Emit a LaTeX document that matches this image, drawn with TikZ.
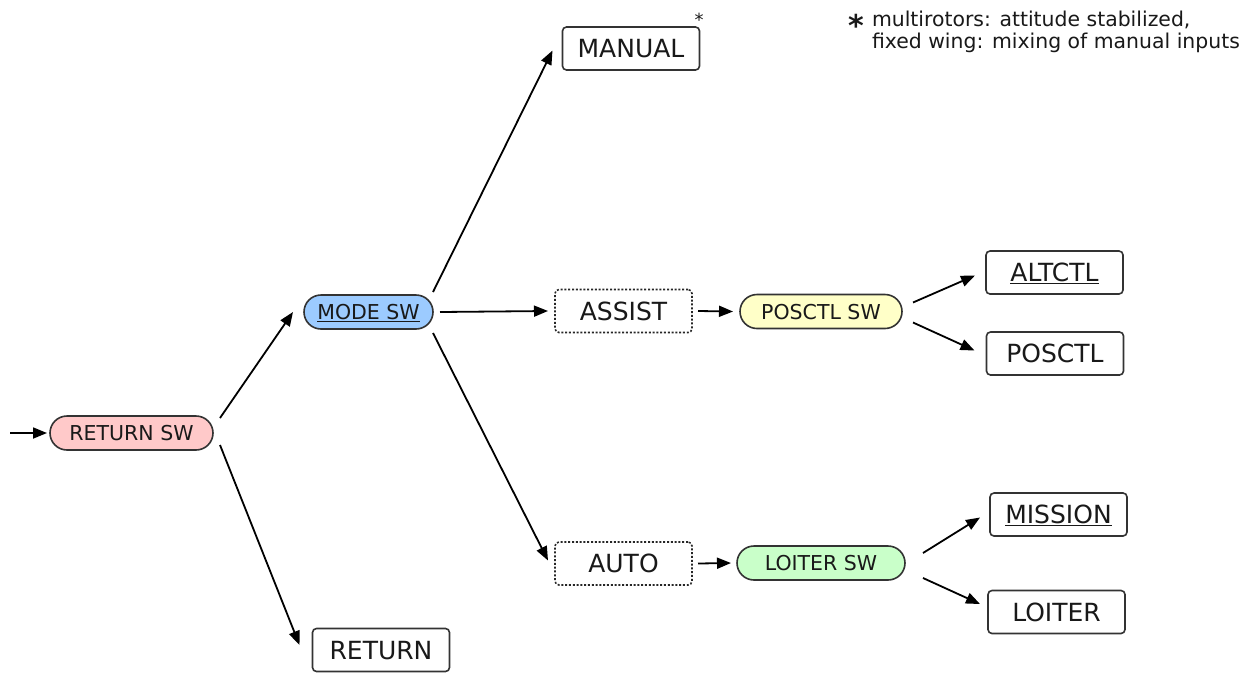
\documentclass[tikz,border=0pt]{standalone}
\usepackage{fontspec}
\setmainfont{DejaVu Sans}
\usetikzlibrary{arrows.meta,calc}
\definecolor{edge}{HTML}{333333}
\definecolor{pinkfill}{HTML}{FFC9C9}
\definecolor{bluefill}{HTML}{9CCBFF}
\definecolor{yellowfill}{HTML}{FFFFC8}
\definecolor{greenfill}{HTML}{C9FFC9}
\begin{document}
\begin{tikzpicture}[x=1pt,y=-1pt,
  every node/.style={inner sep=0pt, outer sep=0pt, text=black!90},
  switch/.style={draw=edge, line width=1.6pt, rounded corners=17pt,
    minimum height=34pt, font=\fontsize{20.5}{24}\selectfont,
    text height=15pt, text depth=0pt},
  modebox/.style={draw=edge, line width=1.6pt, rounded corners=4pt,
    minimum width=137pt, minimum height=43pt,
    font=\fontsize{25}{30}\selectfont, text height=18.2pt, text depth=0pt},
  groupbox/.style={modebox, draw=black!85, dash pattern=on 2pt off 1.8pt},
  arr/.style={-{Triangle[length=14pt,width=11pt]}, line width=1.8pt, black}
]
\fill[white] (0,0) rectangle (1255,673);
\useasboundingbox (0,0) rectangle (1255,673);

% switches and modes
\node[switch, fill=pinkfill, minimum width=163pt] (rsw) at (131.5,433) {RETURN SW};
\node[switch, fill=bluefill, minimum width=129pt] (msw) at (368.5,312) {\underline{MODE SW}};
\node[modebox] (man) at (631,48.5) {MANUAL};
\node[groupbox] (ass) at (623.5,311) {ASSIST};
\node[switch, fill=yellowfill, minimum width=162pt] (psw) at (821,311.5) {POSCTL SW};
\node[modebox] (alt) at (1054.5,272.5) {\underline{ALTCTL}};
\node[modebox] (pos) at (1055,353.5) {POSCTL};
\node[groupbox] (aut) at (623.5,563.5) {AUTO};
\node[switch, fill=greenfill, minimum width=168pt] (lsw) at (821,563) {LOITER SW};
\node[modebox] (mis) at (1058.5,514.5) {\underline{MISSION}};
\node[modebox] (loi) at (1056.5,612) {LOITER};
\node[modebox] (ret) at (381,650) {RETURN};

% footnote
\node[anchor=base] (mstar) at (699,26) {\fontsize{18}{18}\selectfont *};
\node[anchor=base] (bigstar) at (856,36) {\fontsize{30}{30}\selectfont\bfseries *};
\node[anchor=north west, align=left, font=\fontsize{20.4}{22}\selectfont] (note) at (872,11)
  {multirotors: attitude stabilized,\\fixed wing: mixing of manual inputs};

% connectors
\coordinate (entry) at (10,433);
\draw[arr] (entry) -- ($(rsw.west)+(-3,0)$);
\draw[arr] ($(rsw.east)+(7,-15)$) -- ($(msw.west)+(-11,0)$);
\draw[arr] ($(rsw.east)+(7,12)$) -- ($(ret.west)+(-13,-5)$);
\draw[arr] ($(msw.east)+(0,-20)$) -- ($(man.west)+(-10,2)$);
\draw[arr] ($(msw.east)+(7,0)$) -- ($(ass.west)+(-7,0)$);
\draw[arr] ($(msw.east)+(0,21)$) -- ($(aut.west)+(-7,-3)$);
\draw[arr] ($(ass.east)+(6,0)$) -- ($(psw.west)+(-7,0)$);
\draw[arr] ($(aut.east)+(6,0)$) -- ($(lsw.west)+(-6,0)$);
\draw[arr] ($(psw.east)+(11,-9)$) -- ($(alt.west)+(-11,3)$);
\draw[arr] ($(psw.east)+(11,11)$) -- ($(pos.west)+(-12,-3)$);
\draw[arr] ($(lsw.east)+(18,-10)$) -- ($(mis.west)+(-10,3)$);
\draw[arr] ($(lsw.east)+(18,15)$) -- ($(loi.west)+(-8,-8)$);
\end{tikzpicture}
\end{document}
